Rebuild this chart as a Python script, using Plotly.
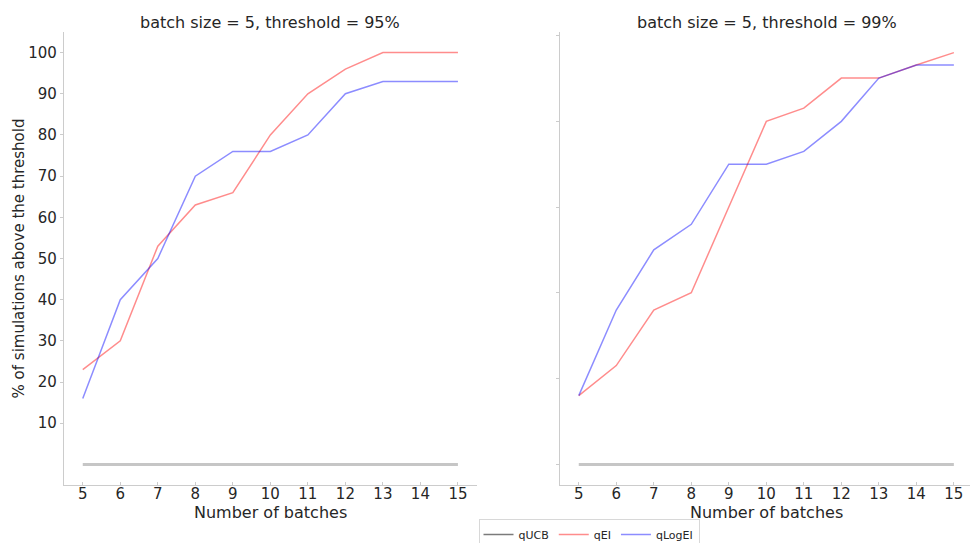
import plotly.graph_objects as go

batches = [5, 6, 7, 8, 9, 10, 11, 12, 13, 14, 15]

# threshold = 95%
qucb_95 = [0, 0, 0, 0, 0, 0, 0, 0, 0, 0, 0]
qei_95 = [23, 30, 53, 63, 66, 80, 90, 96, 100, 100, 100]
qlogei_95 = [16, 40, 50, 70, 76, 76, 80, 90, 93, 93, 93]

# threshold = 99%
qucb_99 = [0, 0, 0, 0, 0, 0, 0, 0, 0, 0, 0]
qei_99 = [16.7, 24, 37.5, 41.7, 62.5, 83.3, 86.5, 93.8, 93.8, 97, 100]
qlogei_99 = [16.7, 37.5, 52.1, 58.3, 72.9, 72.9, 76, 83.3, 93.8, 97, 97]

left_yticks = [10, 20, 30, 40, 50, 60, 70, 80, 90, 100]
right_yticks = [0, 20.83, 41.67, 62.5, 83.33, 104.17]
xticks = batches

titles = ["batch size = 5, threshold = 95%", "batch size = 5, threshold = 99%"]
x_title = "Number of batches"
y_title = "% of simulations above the threshold"
series_names = ["qUCB", "qEI", "qLogEI"]
plot_colors = ["rgba(128,128,128,0.45)", "rgba(255,0,0,0.45)", "rgba(0,0,255,0.45)"]
legend_colors = ["rgba(90,90,90,0.8)", "rgba(255,0,0,0.45)", "rgba(0,0,255,0.45)"]
widths = [3, 1.5, 1.5]

W, H = 970, 543
mt, mb = 32, 58
plot_h = H - mt - mb

fig = go.Figure()

panels = [
    (qucb_95, qei_95, qlogei_95, "x", "y"),
    (qucb_99, qei_99, qlogei_99, "x2", "y2"),
]
for pi, (a, b, c, xa, ya) in enumerate(panels):
    for si, vals in enumerate([a, b, c]):
        fig.add_trace(go.Scatter(
            x=batches, y=vals, mode="lines", name=series_names[si],
            line=dict(color=plot_colors[si], width=widths[si]),
            xaxis=xa, yaxis=ya, showlegend=False, legendgroup=series_names[si],
        ))

# legend-only entries
for si, nm in enumerate(series_names):
    fig.add_trace(go.Scatter(
        x=[None], y=[None], mode="lines", name=nm, legendgroup=nm,
        line=dict(color=legend_colors[si], width=1.5), xaxis="x", yaxis="y", showlegend=True,
    ))

axis_common = dict(
    showgrid=False, zeroline=False, showline=True, linecolor="#cccccc", linewidth=1.2,
    ticklen=3, tickcolor="#cccccc", automargin=False,
    tickfont=dict(family="DejaVu Sans", size=15, color="#262626"),
)

d1 = [64 / W, 476.7 / W]
d2 = [560 / W, 1.0]

fig.update_layout(
    width=W, height=H,
    margin=dict(l=0, r=0, t=mt, b=mb, autoexpand=False),
    plot_bgcolor="white", paper_bgcolor="white",
    font=dict(family="DejaVu Sans", color="#262626"),
    xaxis=dict(domain=d1, range=[4.5, 15.5], tickvals=xticks, anchor="y", ticks="inside",
               ticklabelstandoff=-5, **axis_common),
    yaxis=dict(domain=[0, 1], range=[-5, 105], tickvals=left_yticks, anchor="x", ticks="outside",
               title=dict(text=y_title, font=dict(size=15), standoff=0),
               **axis_common),
    xaxis2=dict(domain=d2, range=[4.5, 15.43], tickvals=xticks, anchor="y2", ticks="inside",
                ticklabelstandoff=-5, **axis_common),
    yaxis2=dict(domain=[0, 1], range=[-5, 105], tickvals=right_yticks, ticktext=[""] * len(right_yticks),
                anchor="x2", ticks="outside", **axis_common),
    legend=dict(orientation="h", xref="container", yref="container",
                x=589 / W, xanchor="center", y=1 - 519 / H, yanchor="top",
                bordercolor="#d8d8d8", borderwidth=1, bgcolor="white",
                font=dict(size=11, color="#262626"), itemwidth=30, tracegroupgap=0),
    showlegend=True,
)

for i, t in enumerate(titles):
    dom = d1 if i == 0 else [560 / W, 973 / W]
    cx = (dom[0] + dom[1]) / 2
    fig.add_annotation(text=t, x=cx, xref="paper", xanchor="center",
                       y=1, yref="paper", yanchor="middle", yshift=10, showarrow=False,
                       font=dict(family="DejaVu Sans", size=16, color="#262626"))
    fig.add_annotation(text=x_title, x=cx, xref="paper", xanchor="center",
                       y=-(512.5 - (H - mb)) / plot_h, yref="paper", yanchor="middle", showarrow=False,
                       font=dict(family="DejaVu Sans", size=16, color="#262626"))

fig.write_html("out.html", config={"displayModeBar": False},
               post_script="document.body.style.margin='0';document.body.style.overflow='hidden';")
